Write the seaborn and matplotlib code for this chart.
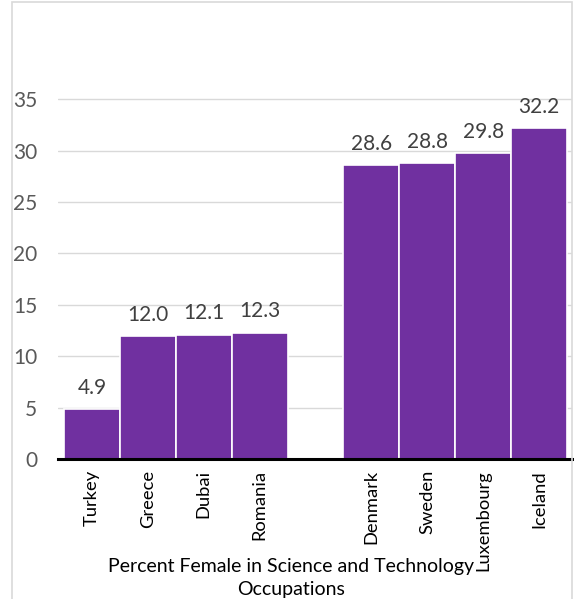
import numpy as np
import pandas as pd
import matplotlib
matplotlib.use("Agg")
import matplotlib.pyplot as plt
import seaborn as sns
from matplotlib.patches import Rectangle

# Share of women working in science and technology occupations (%)
countries = ["Turkey", "Greece", "Dubai", "Romania", " ",
             "Denmark", "Sweden", "Luxembourg", "Iceland"]
percent_female = [4.9, 12.0, 12.1, 12.3, np.nan, 28.6, 28.8, 29.8, 32.2]
y_ticks = [0, 5, 10, 15, 20, 25, 30, 35]

df = pd.DataFrame({"country": countries, "pct": percent_female})

sns.set_style("white")
plt.rcParams["font.family"] = ["Lato", "DejaVu Sans"]

fig = plt.figure(figsize=(5.74, 5.99), dpi=100)
ax = fig.add_axes([58 / 574, 1 - 459 / 599, (572 - 58) / 574, (459 - 20) / 599])

sns.barplot(data=df, x="country", y="pct", order=countries, color="#7030A0",
            saturation=1, width=1.0, edgecolor="white", linewidth=1.2, ax=ax,
            errorbar=None)

ax.set_xlim(-0.607, 8.59)
ax.set_ylim(0, 42.7)
ax.set_yticks(y_ticks)
ax.set_yticklabels([str(t) for t in y_ticks], fontsize=15, color="#595959")
ax.yaxis.grid(True, color="#D9D9D9", linewidth=1)
ax.set_axisbelow(True)
ax.tick_params(axis="y", length=0, pad=15)
ax.tick_params(axis="x", length=0, pad=8)
for lab in ax.get_xticklabels():
    lab.set_rotation(90)
    lab.set_fontsize(13.2)
    lab.set_color("black")

for side in ["top", "right", "left"]:
    ax.spines[side].set_visible(False)
ax.spines["bottom"].set_color("black")
ax.spines["bottom"].set_linewidth(2.2)

ax.set_xlabel("")
ax.set_ylabel("")

# Value labels above each bar
for i, v in enumerate(percent_female):
    if np.isnan(v):
        continue
    ax.annotate(f"{v:.1f}", (i, v), xytext=(0, 8), textcoords="offset points",
                ha="center", va="bottom", fontsize=15, color="#404040")

fig.text(291 / 574, 1 - 578 / 599,
         "Percent Female in Science and Technology\nOccupations",
         ha="center", va="center", fontsize=14, color="black",
         linespacing=1.4)

# Chart border
fig.patches.append(Rectangle((12 / 574, -0.05), (572 - 12) / 574, 1.05 - 2 / 599,
                             transform=fig.transFigure, fill=False,
                             edgecolor="#D9D9D9", linewidth=1.2))

fig.savefig("out.png", dpi=100)
